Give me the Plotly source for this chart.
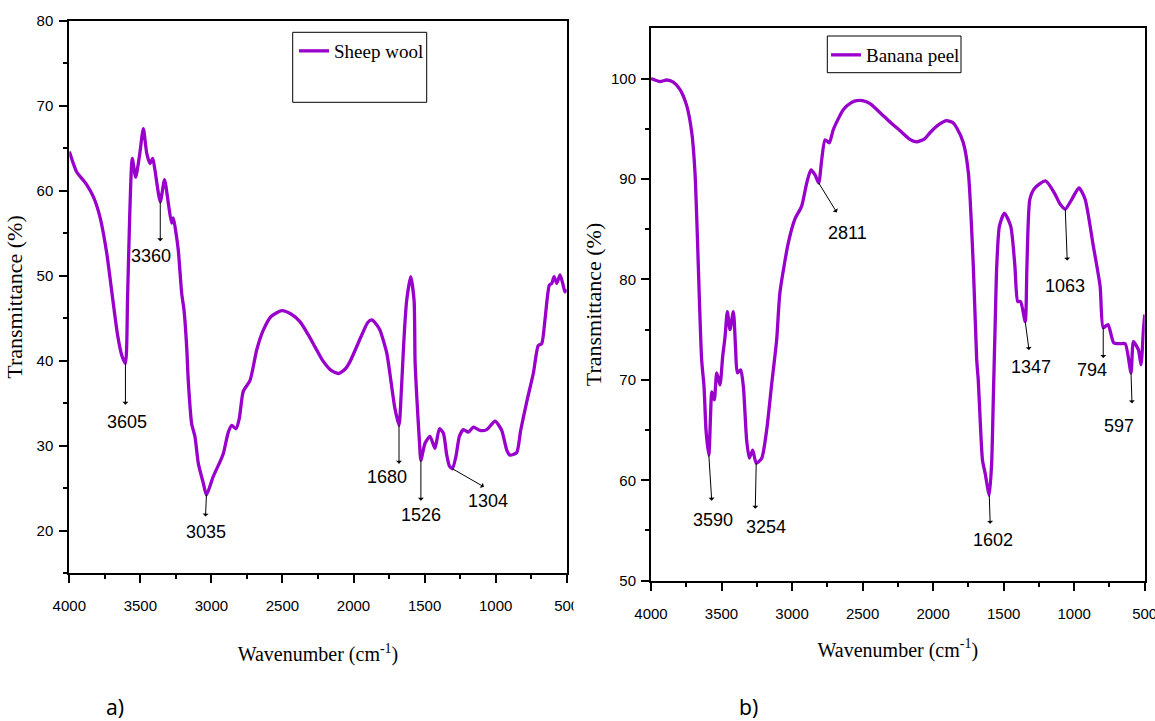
import numpy as np
import plotly.graph_objects as go

# ---- Sheep wool FTIR spectrum (wavenumber in cm-1, transmittance in %) ----
wool_wn = [4000, 3948, 3900, 3877, 3831, 3784, 3737, 3700, 3660, 3630, 3605,
           3590, 3575, 3557, 3533, 3507, 3479, 3455, 3432, 3413, 3397, 3360,
           3330, 3303, 3280, 3268, 3249, 3233, 3209, 3193, 3174, 3163, 3139,
           3116, 3092, 3057, 3035, 2987, 2940, 2916, 2881, 2857, 2827, 2804,
           2776, 2728, 2681, 2635, 2580, 2505, 2440, 2377, 2320, 2270, 2220,
           2160, 2107, 2060, 2025, 1943, 1900, 1872, 1840, 1814, 1766, 1740,
           1710, 1680, 1665, 1650, 1640, 1626, 1598, 1574, 1567, 1555, 1537,
           1526, 1497, 1462, 1427, 1396, 1368, 1345, 1325, 1304, 1280, 1255,
           1227, 1192, 1157, 1110, 1063, 1004, 957, 922, 899, 852, 824, 781,
           735, 700, 676, 653, 622, 605, 589, 570, 547, 528, 512, 500]
wool_t = [64.6, 62.2, 61.2, 60.7, 59.3, 56.9, 52.7, 48.0, 43.0, 40.6, 39.7,
          47.5, 57.0, 63.8, 61.6, 64.0, 67.3, 64.4, 63.2, 63.8, 62.4, 58.7,
          61.3, 58.5, 56.2, 56.8, 55.0, 53.0, 47.9, 46.0, 41.6, 37.7, 32.6,
          31.1, 27.9, 25.6, 24.2, 26.4, 28.1, 29.1, 31.6, 32.4, 32.0, 33.2,
          36.4, 37.7, 41.3, 43.6, 45.2, 45.9, 45.5, 44.6, 43.1, 41.6, 40.1,
          38.9, 38.5, 39.0, 39.9, 43.0, 44.5, 44.8, 44.3, 43.6, 40.9, 38.0,
          34.5, 32.4, 36.0, 41.0, 44.0, 47.1, 49.9, 47.1, 40.0, 35.8, 30.7,
          28.3, 30.3, 31.1, 29.7, 32.0, 31.5, 29.0, 27.6, 27.3, 28.7, 31.1,
          31.9, 31.6, 32.2, 31.8, 31.9, 32.9, 31.8, 29.5, 28.9, 29.2, 31.8,
          35.2, 38.5, 41.8, 42.0, 44.8, 48.9, 49.1, 49.9, 49.1, 50.1, 49.1,
          48.1, 48.4]
wool_peaks = [3605, 3360, 3035, 1680, 1526, 1304]

# ---- Banana peel FTIR spectrum ----
banana_wn = [4000, 3936, 3889, 3842, 3794, 3747, 3711, 3688, 3672, 3657, 3641,
             3624, 3610, 3590, 3578, 3569, 3551, 3534, 3511, 3492, 3475, 3459,
             3440, 3416, 3400, 3388, 3364, 3345, 3322, 3303, 3279, 3254, 3215,
             3180, 3145, 3109, 3086, 3027, 2980, 2932, 2896, 2866, 2837, 2811,
             2790, 2766, 2736, 2708, 2637, 2580, 2542, 2500, 2447, 2376, 2300,
             2234, 2170, 2116, 2060, 2022, 1960, 1904, 1860, 1833, 1786, 1750,
             1715, 1691, 1680, 1663, 1650, 1630, 1602, 1585, 1573, 1561, 1549,
             1530, 1495, 1450, 1420, 1400, 1380, 1347, 1335, 1314, 1279, 1203,
             1140, 1100, 1063, 1020, 966, 923, 864, 816, 794, 760, 720, 674,
             638, 597, 580, 545, 526, 509, 500]
banana_t = [100.0, 99.7, 99.85, 99.65, 98.9, 97.3, 94.6, 90.6, 84.6, 78.0, 72.0,
            69.3, 65.0, 62.5, 66.4, 68.8, 68.0, 70.7, 69.5, 72.3, 74.3, 76.8,
            75.0, 76.8, 73.0, 70.7, 71.0, 69.3, 64.0, 62.2, 63.0, 61.7, 62.2,
            65.0, 69.5, 74.0, 78.7, 83.6, 86.0, 87.3, 89.6, 90.9, 90.4, 89.6,
            91.9, 93.9, 93.6, 94.9, 96.9, 97.6, 97.8, 97.8, 97.5, 96.6, 95.6,
            94.8, 94.0, 93.7, 94.0, 94.6, 95.4, 95.8, 95.6, 95.1, 93.6, 90.6,
            81.3, 72.0, 70.0, 65.0, 62.0, 60.6, 58.5, 61.7, 68.3, 75.0, 81.3,
            85.3, 86.6, 85.3, 81.3, 77.8, 77.8, 75.8, 81.3, 88.0, 89.1, 89.8,
            88.6, 87.5, 87.0, 87.9, 89.1, 88.0, 83.3, 79.3, 75.2, 75.5, 73.7,
            73.6, 73.6, 70.7, 73.8, 73.0, 71.5, 75.0, 76.5]
banana_peaks = [3590, 3254, 2811, 1602, 1347, 1063, 794, 597]

x_ticks = [4000, 3500, 3000, 2500, 2000, 1500, 1000, 500]

W, H = 1155, 721
LINE = "#9900CC"
SANS = "Liberation Sans, Arial, sans-serif"
SERIF = "Liberation Serif, Times New Roman, serif"
TICK_FONT = dict(family=SANS, size=15, color="black")
TITLE_FONT_Y = dict(family=SERIF, size=22, color="black")
TITLE_FONT_X = dict(family=SERIF, size=20, color="black")


def px_x(p):
    return p / W


def px_y(p):
    return 1 - p / H


fig = go.Figure()
fig.add_trace(go.Scatter(x=wool_wn, y=wool_t, mode="lines", name="Sheep wool",
                         line=dict(color=LINE, width=3.3, shape="spline", smoothing=0.6),
                         xaxis="x", yaxis="y", legend="legend"))
fig.add_trace(go.Scatter(x=banana_wn, y=banana_t, mode="lines", name="Banana peel",
                         line=dict(color=LINE, width=3.3, shape="spline", smoothing=0.6),
                         xaxis="x2", yaxis="y2", legend="legend2"))

axis_common = dict(showline=True, linewidth=2, linecolor="black", mirror=True,
                   ticks="outside", ticklen=8, tickwidth=2, tickcolor="black",
                   showgrid=False, zeroline=False, tickfont=TICK_FONT, automargin=False,
                   ticklabeloverflow="allow")
x_minor = dict(ticks="outside", ticklen=4, tickwidth=2, dtick=250, tick0=0)

fig.update_layout(
    width=W, height=H, margin=dict(l=0, r=0, t=0, b=0, autoexpand=False),
    paper_bgcolor="white", plot_bgcolor="white",
    xaxis=dict(domain=[px_x(69.3), px_x(566.7)], range=[4000, 500], tickvals=x_ticks,
               minor=x_minor, ticklabelstandoff=10, anchor="y",
               title=dict(text="Wavenumber (cm<sup>-1</sup>)", font=TITLE_FONT_X, standoff=34),
               **axis_common),
    yaxis=dict(domain=[px_y(573.3), px_y(20.7)], range=[15, 80], dtick=10, tick0=0,
               minor=dict(ticks="outside", ticklen=4, tickwidth=2, dtick=5, tick0=0),
               ticklabelstandoff=3, anchor="x",
               title=dict(text="Transmittance (%)", font=TITLE_FONT_Y, standoff=8),
               **axis_common),
    xaxis2=dict(domain=[px_x(651), px_x(1144.7)], range=[4000, 500], tickvals=x_ticks,
                minor=x_minor, ticklabelstandoff=10, anchor="y2",
                title=dict(text="Wavenumber (cm<sup>-1</sup>)", font=TITLE_FONT_X, standoff=22),
                **axis_common),
    yaxis2=dict(domain=[px_y(580.7), px_y(28.3)], range=[50, 105],
                tickvals=[50, 60, 70, 80, 90, 100],
                minor=dict(ticks="outside", ticklen=4, tickwidth=2,
                           tickvals=[55, 65, 75, 85, 95]),
                ticklabelstandoff=2, anchor="x2",
                title=dict(text="Transmittance (%)", font=TITLE_FONT_Y, standoff=3),
                **axis_common),
    legend=dict(x=px_x(294), y=px_y(32), xanchor="left", yanchor="top",
                bgcolor="rgba(0,0,0,0)", borderwidth=0,
                font=dict(family=SERIF, size=19, color="black")),
    legend2=dict(x=px_x(826), y=px_y(36), xanchor="left", yanchor="top",
                 bgcolor="rgba(0,0,0,0)", borderwidth=0,
                 font=dict(family=SERIF, size=19, color="black")),
    showlegend=True,
)

# legend frames
fig.add_shape(type="rect", xref="paper", yref="paper",
              x0=px_x(292.7), x1=px_x(426.7), y0=px_y(102.3), y1=px_y(32.3),
              line=dict(color="black", width=1))
fig.add_shape(type="rect", xref="paper", yref="paper",
              x0=px_x(827.3), x1=px_x(961), y0=px_y(72.7), y1=px_y(36),
              line=dict(color="black", width=1))

# the left panel is cut just past its last tick label
fig.add_shape(type="rect", xref="paper", yref="paper", layer="above",
              x0=px_x(573.5), x1=px_x(600), y0=px_y(618), y1=px_y(588),
              line=dict(width=0), fillcolor="white")

# panel letters
for txt, cx in [("a)", 115), ("b)", 748)]:
    fig.add_annotation(xref="paper", yref="paper", x=px_x(cx), y=px_y(707),
                       xanchor="center", yanchor="middle",
                       text=txt, showarrow=False,
                       font=dict(family="Noto Sans, Open Sans, sans-serif", size=21, color="black"))

# peak callouts: arrow tip offset and label offset (pixels from the band minimum)
wool_offsets = {3605: ((0, 43), (2, -59)), 3360: ((0, 41), (-9, -54)),
                3035: ((-1, 23), (0, -37)), 1680: ((0, 40), (-12, -52)),
                1526: ((0, 42), (0, -55)), 1304: ((33, 19), (36, -32))}
banana_offsets = {3590: ((3, 47), (4, -65)), 3254: ((-1, 47), (10, -64)),
                  2811: ((19, 31), (29, -50)), 1602: ((1, 30), (4, -45)),
                  1347: ((4, 30), (6, -45)), 1063: ((2, 53), (0, -77)),
                  794: ((0, 32), (-11, -42)), 597: ((1, 32), (-12, -53))}

LABEL_FONT = dict(family=SANS, size=18, color="black")


def add_callouts(wn, tr, peaks, offsets, xr, yr):
    wn_a = np.asarray(wn, dtype=float)[::-1]
    tr_a = np.asarray(tr, dtype=float)[::-1]
    for p in peaks:
        yv = float(np.interp(p, wn_a, tr_a))
        (adx, ady), (tdx, tdy) = offsets[p]
        fig.add_annotation(xref=xr, yref=yr, x=p, y=yv, text="", showarrow=True,
                           ax=adx, ay=ady, arrowside="start", arrowhead=2,
                           arrowsize=1.4, arrowwidth=1, arrowcolor="black")
        fig.add_annotation(xref=xr, yref=yr, x=p, y=yv, text=str(p), showarrow=False,
                           xshift=tdx, yshift=tdy, font=LABEL_FONT)


add_callouts(wool_wn, wool_t, wool_peaks, wool_offsets, "x", "y")
add_callouts(banana_wn, banana_t, banana_peaks, banana_offsets, "x2", "y2")

fig.write_html("out.html")
